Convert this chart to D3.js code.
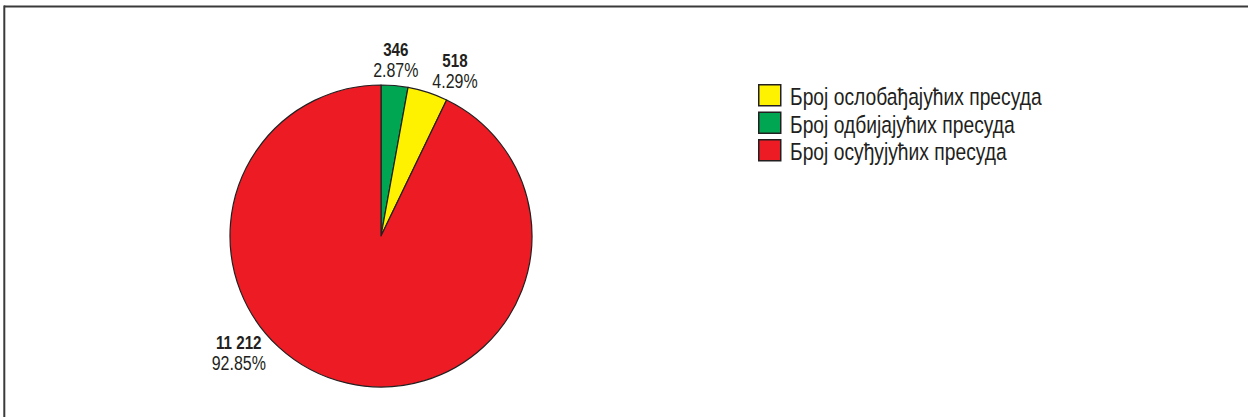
<!DOCTYPE html>
<html>
<head>
<meta charset="utf-8">
<script src="https://cdn.jsdelivr.net/npm/d3@7"></script>
<style>
  html, body { margin: 0; padding: 0; background: #fff; }
  svg { display: block; }
  text { font-family: "Liberation Sans", Arial, sans-serif; fill: #231f20; }
</style>
</head>
<body>
<svg id="chart" width="1248" height="417"></svg>
<script>
// ---- data ----
const categories = ["Број одбијајућих пресуда", "Број ослобађајућих пресуда", "Број осуђујућих пресуда"];
const values = [346, 518, 11212];
const valueLabels = ["346", "518", "11 212"];
const percentLabels = ["2.87%", "4.29%", "92.85%"];
const colors = ["#00a651", "#fff200", "#ed1c24"];
const legendOrder = ["Број ослобађајућих пресуда", "Број одбијајућих пресуда", "Број осуђујућих пресуда"];

// ---- drawing ----
const W = 1248, H = 417;
const NARROW = 0.82; // emulate a condensed face
const svg = d3.select("#chart");

// frame
svg.append("line").attr("x1", 4).attr("x2", W).attr("y1", 6.5).attr("y2", 6.5)
  .attr("stroke", "#3a3a3a").attr("stroke-width", 2);
svg.append("line").attr("x1", 4.3).attr("x2", 4.3).attr("y1", 5.5).attr("y2", H)
  .attr("stroke", "#3a3a3a").attr("stroke-width", 2);

const cx = 381, cy = 236, R = 151;
const color = d3.scaleOrdinal().domain(categories).range(colors);

const pie = d3.pie().sort(null).value(d => d.value);
const data = categories.map((c, i) => ({ cat: c, value: values[i], vl: valueLabels[i], pl: percentLabels[i] }));
const arcs = pie(data);
const arc = d3.arc().innerRadius(0).outerRadius(R);

const g = svg.append("g").attr("transform", `translate(${cx},${cy})`);
g.selectAll("path").data(arcs).join("path")
  .attr("d", arc)
  .attr("fill", d => color(d.data.cat))
  .attr("stroke", "#231f20")
  .attr("stroke-width", 1.2)
  .attr("stroke-linejoin", "round");

// labels: placed around the pie using the slice angle, with manual nudges
const labelArc = d3.arc().innerRadius(176).outerRadius(176);
const nudges = [[-1, 0.5], [19.5, 3.3], [-103, -53.6]];
const lbl = g.selectAll("g.lbl").data(arcs).join("g").attr("class", "lbl")
  .attr("transform", (d, i) => {
    const c = labelArc.centroid(d);
    return `translate(${c[0] + nudges[i][0]},${c[1] + nudges[i][1]}) scale(${NARROW},1)`;
  });
lbl.append("text").attr("text-anchor", "middle").attr("y", -5)
  .style("font-size", "18.5px").style("font-weight", "bold").text(d => d.data.vl);
lbl.append("text").attr("text-anchor", "middle").attr("y", 15.8)
  .style("font-size", "19.5px").text(d => d.data.pl);

// legend
const lx = 758, ly = 84, step = 27.5;
const lg = svg.append("g");
const items = lg.selectAll("g").data(legendOrder).join("g")
  .attr("transform", (d, i) => `translate(${lx},${ly + i * step})`);
items.append("rect").attr("x", 0.75).attr("y", 0.75).attr("width", 22).attr("height", 21)
  .attr("fill", d => color(d)).attr("stroke", "#231f20").attr("stroke-width", 1.5);
items.append("text").attr("transform", `translate(32,21) scale(${NARROW},1)`)
  .style("font-size", "23.5px").text(d => d);
</script>
</body>
</html>
